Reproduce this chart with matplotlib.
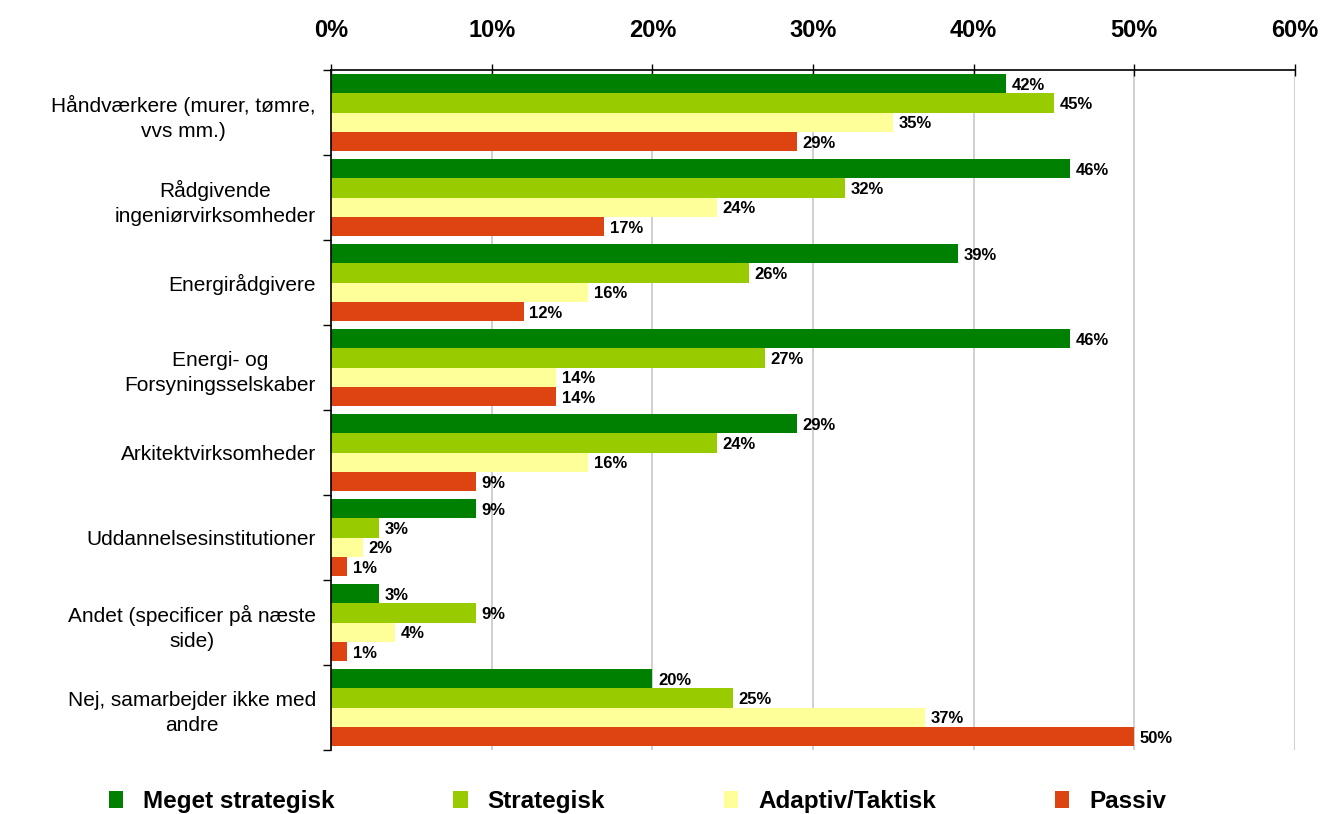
import numpy as np
import matplotlib.pyplot as plt
from matplotlib.patches import Patch
from matplotlib.ticker import MultipleLocator, PercentFormatter

plt.rcParams['font.family'] = ['Liberation Sans', 'DejaVu Sans']

categories = [
    'Håndværkere (murer, tømre,\nvvs mm.)',
    'Rådgivende\ningeniørvirksomheder',
    'Energirådgivere',
    'Energi- og\nForsyningsselskaber',
    'Arkitektvirksomheder',
    'Uddannelsesinstitutioner',
    'Andet (specificer på næste\nside)',
    'Nej, samarbejder ikke med\nandre',
]
series_names = ['Meget strategisk', 'Strategisk', 'Adaptiv/Taktisk', 'Passiv']
meget_strategisk = [42, 46, 39, 46, 29, 9, 3, 20]
strategisk = [45, 32, 26, 27, 24, 3, 9, 25]
adaptiv_taktisk = [35, 24, 16, 14, 16, 2, 4, 37]
passiv = [29, 17, 12, 14, 9, 1, 1, 50]
colors = ['#008000', '#99CC00', '#FFFF99', '#DD4411']

series = [meget_strategisk, strategisk, adaptiv_taktisk, passiv]

fig = plt.figure(figsize=(13.22, 8.14), dpi=100)
ax = fig.add_axes([0.2504, 0.0786, 0.7292, 0.8354])

n = len(categories)
y = np.arange(n)
h = 0.228
offsets = (np.arange(4) - 1.5) * h

for vals, col, off, name in zip(series, colors, offsets, series_names):
    bars = ax.barh(y + off, vals, height=h, color=col, label=name, zorder=2)
    for b, v in zip(bars, vals):
        ax.text(b.get_width() + 0.35, b.get_y() + b.get_height() / 2 + 0.02, f'{v}%',
                va='center', ha='left', fontsize=12, fontweight='bold', zorder=3)

ax.set_xlim(0, 60)
ax.set_ylim(n - 0.5, -0.5)
ax.xaxis.set_major_locator(MultipleLocator(10))
ax.xaxis.set_major_formatter(PercentFormatter(decimals=0))
ax.xaxis.tick_top()
ax.tick_params(axis='x', which='major', direction='inout', length=8, width=1,
               labelsize=17, pad=16)
for lab in ax.get_xticklabels():
    lab.set_fontweight('bold')

# group separators on the left spine, category names in between
ax.set_yticks(np.arange(n + 1) - 0.5, minor=False)
ax.set_yticklabels([])
ax.set_yticks(y, minor=True)
ax.set_yticklabels(categories, minor=True, fontsize=15, ha='right',
                   multialignment='center', linespacing=1.45)
ax.tick_params(axis='y', which='major', direction='out', length=6, width=1)
ax.tick_params(axis='y', which='minor', length=0, pad=11)

ax.grid(axis='x', color='#C8C8C8', linewidth=1.2, zorder=0)
for s in ['right', 'bottom']:
    ax.spines[s].set_visible(False)
for s in ['top', 'left']:
    ax.spines[s].set_linewidth(1.2)
    ax.spines[s].set_zorder(4)

handles = [Patch(facecolor=c, label=nm) for c, nm in zip(colors, series_names)]
fig.legend(handles=handles, loc='lower center', ncol=4, frameon=False,
           bbox_to_anchor=(0.482, -0.026), handlelength=0.6, handleheight=0.7,
           handletextpad=0.8, columnspacing=4.9,
           prop={'size': 17.5, 'weight': 'bold'})

fig.savefig('out.png', dpi=100)
